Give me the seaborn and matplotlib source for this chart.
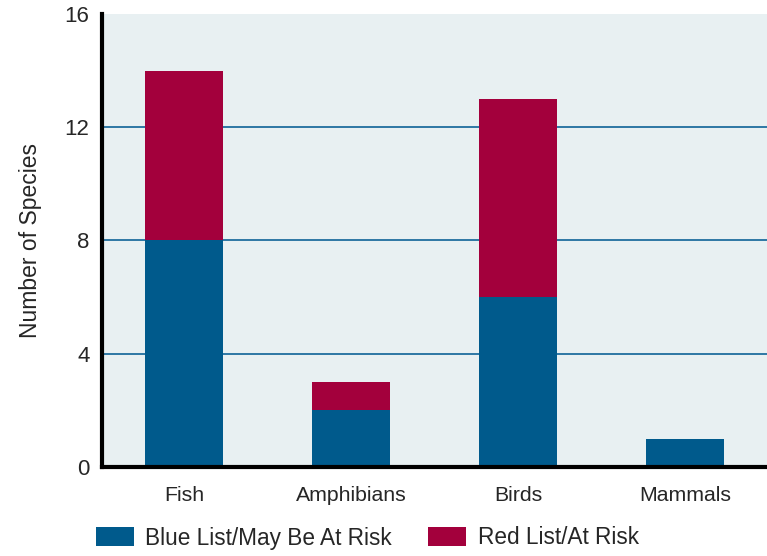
import matplotlib
matplotlib.use("Agg")
import matplotlib.pyplot as plt
import seaborn as sns
import pandas as pd
from matplotlib.patches import Patch

categories = ["Fish", "Amphibians", "Birds", "Mammals"]
blue_list = [8, 2, 6, 1]
red_list = [6, 1, 7, 0]
series_names = ["Blue List/May Be At Risk", "Red List/At Risk"]
yticks = [0, 4, 8, 12, 16]

BLUE = "#005A8C"
RED = "#A3003C"

sns.set_theme(style="white")
plt.rcParams["font.family"] = ["Liberation Sans", "DejaVu Sans"]

df = pd.DataFrame({
    "cat": categories,
    "blue": blue_list,
    "total": [b + r for b, r in zip(blue_list, red_list)],
})

fig = plt.figure(figsize=(7.67, 5.56), dpi=100)
ax = fig.add_axes([0.133, 0.160, 0.867, 0.815])
ax.set_facecolor("#E8F0F2")

sns.barplot(data=df, x="cat", y="total", color=RED, saturation=1, width=0.47, ax=ax,
            zorder=3, edgecolor="none", linewidth=0)
sns.barplot(data=df, x="cat", y="blue", color=BLUE, saturation=1, width=0.47, ax=ax,
            zorder=4, edgecolor="none", linewidth=0)

ax.set_ylim(0, 16)
ax.set_xlim(-0.49, 3.49)
ax.set_yticks(yticks)
ax.set_yticklabels([str(t) for t in yticks], fontsize=16)
ax.set_xticks(range(len(categories)))
ax.set_xticklabels(categories, fontsize=15.3)
ax.set_xlabel("")
ax.set_ylabel("Number of Species", fontsize=16.5, labelpad=16)

for t in [4, 8, 12]:
    ax.axhline(t, color="#1F6E9E", lw=1.3, zorder=2)

for s in ["top", "right"]:
    ax.spines[s].set_visible(False)
for s in ["left", "bottom"]:
    ax.spines[s].set_visible(True)
    ax.spines[s].set_color("black")
    ax.spines[s].set_linewidth(3)
    ax.spines[s].set_zorder(5)

ax.tick_params(axis="both", which="both", length=3, width=2.5, color="black", direction="out", pad=6)
ax.tick_params(axis="x", pad=11)

handles = [Patch(facecolor=BLUE, edgecolor="none"), Patch(facecolor=RED, edgecolor="none")]
fig.legend(handles, series_names, loc="center left", bbox_to_anchor=(96 / 767, 1 - 538 / 556), ncol=2,
           frameon=False, fontsize=16.3, handlelength=1.68, handleheight=0.88,
           columnspacing=1.6, handletextpad=0.5, borderpad=0, borderaxespad=0)

fig.savefig("out.png", dpi=100)
